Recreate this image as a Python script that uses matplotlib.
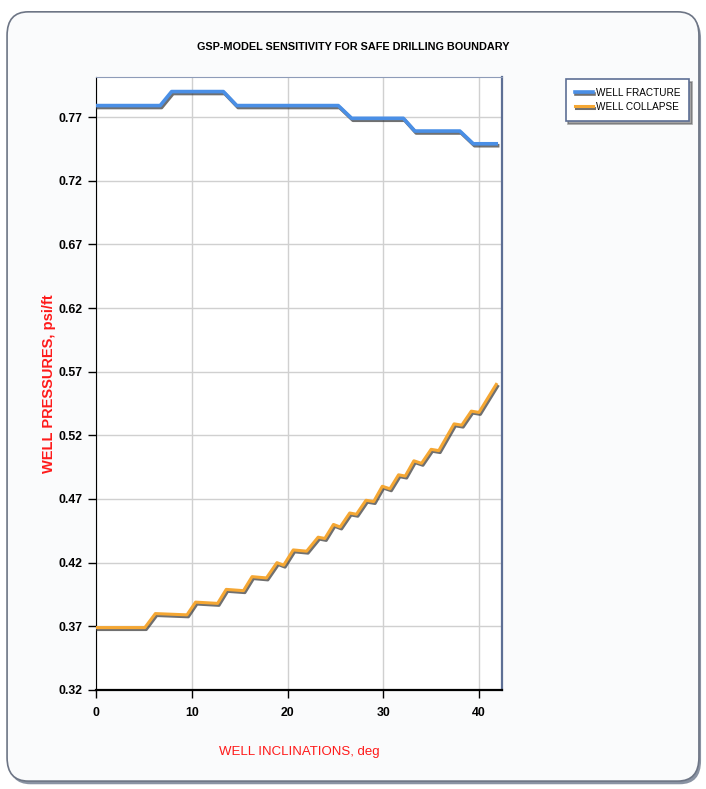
import matplotlib
matplotlib.use("Agg")
import matplotlib.pyplot as plt
import matplotlib.patheffects as pe
from matplotlib.patches import FancyBboxPatch

plt.rcParams['font.family'] = ['Liberation Sans', 'DejaVu Sans']

# data (vertices of the stepped curves)
frac_x = [0, 6.7, 7.9, 13.3, 14.7, 25.3, 26.7, 32.1, 33.3, 38.0, 39.4, 41.8]
frac_y = [0.779, 0.779, 0.790, 0.790, 0.779, 0.779, 0.769, 0.769, 0.759, 0.759, 0.749, 0.749]

coll_x = [0, 5.1, 6.2, 9.5, 10.4, 12.7, 13.6, 15.4, 16.3, 17.8, 18.9, 19.6, 20.6, 22.0,
          23.2, 23.9, 24.8, 25.5, 26.5, 27.2, 28.2, 29.0, 29.9, 30.7, 31.6, 32.3,
          33.2, 34.0, 35.0, 35.8, 37.4, 38.2, 39.2, 40.0, 41.8]
coll_y = [0.369, 0.369, 0.380, 0.379, 0.389, 0.388, 0.399, 0.398, 0.409, 0.408, 0.420, 0.418,
          0.430, 0.429, 0.440, 0.439, 0.450, 0.448, 0.459, 0.458, 0.469, 0.468, 0.480, 0.478,
          0.489, 0.488, 0.500, 0.498, 0.509, 0.508, 0.529, 0.528, 0.539, 0.538, 0.560]

yticks = [0.32, 0.37, 0.42, 0.47, 0.52, 0.57, 0.62, 0.67, 0.72, 0.77]
xticks = [0, 10, 20, 30, 40]

fig = plt.figure(figsize=(7.06, 7.89), dpi=100)
fig.patch.set_facecolor('white')

# rounded panel behind everything
shadow = FancyBboxPatch((0.013, 0.006), 0.98, 0.975, boxstyle="round,pad=0,rounding_size=0.03",
                        transform=fig.transFigure, facecolor='#8a93a3', edgecolor='none', zorder=-3)
panel = FancyBboxPatch((0.01, 0.01), 0.98, 0.975, boxstyle="round,pad=0,rounding_size=0.03",
                       transform=fig.transFigure, facecolor='#fafbfc', edgecolor='#6d7585',
                       linewidth=1.2, zorder=-2)
fig.patches.extend([shadow, panel])

ax = fig.add_axes([0.136, 0.1255, 0.575, 0.777])
ax.set_facecolor('white')

shadow_fx = [pe.SimpleLineShadow(offset=(1.0, -1.4), shadow_color='#333333', alpha=0.7), pe.Normal()]
ax.plot(frac_x, frac_y, color='#4a8fe6', lw=2.6, label='WELL FRACTURE', path_effects=shadow_fx, zorder=3)
ax.plot(coll_x, coll_y, color='#f5a733', lw=2.2, label='WELL COLLAPSE', path_effects=shadow_fx, zorder=3)

ax.set_xlim(0, 42.4)
ax.set_ylim(0.32, 0.8015)
ax.set_xticks(xticks)
ax.set_yticks(yticks)
ax.set_yticklabels([f"{v:.2f}" for v in yticks])
ax.grid(True, color='#d0d0d0', lw=1)
ax.set_axisbelow(True)

ax.tick_params(axis='both', direction='out', length=6, width=1, labelsize=8.8, colors='black')
ax.tick_params(axis='x', pad=6)
for lab in ax.get_xticklabels() + ax.get_yticklabels():
    lab.set_fontweight('bold')

ax.spines['left'].set_color('black')
ax.spines['bottom'].set_color('black')
ax.spines['bottom'].set_linewidth(1.6)
ax.spines['top'].set_color('#8e9cb8')
ax.spines['right'].set_color('#5d6f95')
ax.spines['right'].set_linewidth(1.6)

ax.set_xlabel('WELL INCLINATIONS, deg', color='#ff1a1a', fontsize=9.5, labelpad=20)
ax.set_ylabel('WELL PRESSURES, psi/ft', color='#ff1a1a', fontsize=10.5, fontweight='bold',
              labelpad=2)

fig.text(0.5, 0.9405, 'GSP-MODEL SENSITIVITY FOR SAFE DRILLING BOUNDARY', ha='center', va='center',
         fontsize=7.8, fontweight='bold')

leg = ax.legend(loc='upper left', bbox_to_anchor=(1.157, 0.997), borderaxespad=0, frameon=True,
                fancybox=False, shadow=True, fontsize=7.2, handlelength=1.8, borderpad=0.9,
                labelspacing=0.4, handletextpad=0.3)
leg.get_frame().set_edgecolor('#5d6f95')
leg.get_frame().set_linewidth(1.2)

fig.savefig('out.png', dpi=100)
